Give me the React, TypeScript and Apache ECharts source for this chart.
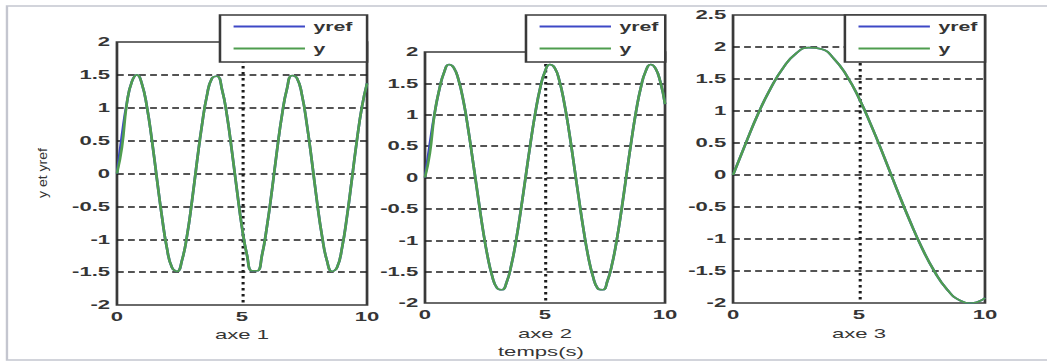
import React, { useEffect, useRef } from "react";
import * as echarts from "echarts";

// The figure is laid out on a narrow canvas and widened horizontally by CSS.
const STRETCH = 1.7;
const BASE_W = 616;
const BASE_H = 362;

const FONT = "'Liberation Sans', Arial, sans-serif";
const TEXT_COLOR = "#353535";
const YREF_COLOR = "#3e48c6";
const Y_COLOR = "#4f9d4f";
const FRAME_COLOR = "#3a3a3a";

// Time samples (s)
const tFine = [
  0, 0.2, 0.4, 0.6, 0.8, 1, 1.2, 1.4, 1.6, 1.8, 2, 2.2, 2.4, 2.6, 2.8, 3, 3.2, 3.4, 3.6, 3.8, 4,
  4.2, 4.4, 4.6, 4.8, 5, 5.2, 5.4, 5.6, 5.8, 6, 6.2, 6.4, 6.6, 6.8, 7, 7.2, 7.4, 7.6, 7.8, 8,
  8.2, 8.4, 8.6, 8.8, 9, 9.2, 9.4, 9.6, 9.8, 10,
];
const tCoarse = [0, 0.5, 1, 1.5, 2, 2.5, 3, 3.5, 4, 4.5, 5, 5.5, 6, 6.5, 7, 7.5, 8, 8.5, 9, 9.5, 10];

// axe 1
const yref1 = [
  0, 0.58, 1.08, 1.4, 1.5, 1.36, 1.01, 0.5, -0.09, -0.66, -1.14, -1.43, -1.49, -1.32, -0.95, -0.42,
  0.18, 0.74, 1.19, 1.45, 1.48, 1.28, 0.88, 0.33, -0.26, -0.82, -1.24, -1.48, -1.48, -1.24, -0.8,
  -0.25, 0.35, 0.89, 1.29, 1.49, 1.45, 1.19, 0.73, 0.17, -0.43, -0.95, -1.33, -1.49, -1.43, -1.13,
  -0.65, -0.07, 0.52, 1.02, 1.37,
];
const y1Start = [0, 0.4];

// axe 2
const yref2 = [
  0, 0.53, 1.02, 1.41, 1.68, 1.8, 1.75, 1.55, 1.22, 0.77, 0.25, -0.28, -0.8, -1.24, -1.57, -1.76,
  -1.79, -1.67, -1.39, -0.99, -0.5, 0.03, 0.56, 1.04, 1.43, 1.69, 1.8, 1.75, 1.54, 1.19, 0.74, 0.22,
  -0.31, -0.82, -1.26, -1.58, -1.77, -1.79, -1.65, -1.37, -0.97, -0.48, 0.06, 0.59, 1.07, 1.45,
  1.7, 1.8, 1.74, 1.53, 1.17,
];
const y2Start = [0, 0.38];

// axe 3
const yref3 = [
  0, 0.49, 0.96, 1.36, 1.68, 1.9, 1.99, 1.97, 1.82, 1.56, 1.2, 0.76, 0.28, -0.22, -0.7, -1.14,
  -1.51, -1.79, -1.96, -2.0, -1.92,
];

const y1 = [...y1Start, ...yref1.slice(y1Start.length)];
const y2 = [...y2Start, ...yref2.slice(y2Start.length)];
const y3 = yref3.slice();

const axisNames = ["axe 1", "axe 2", "axe 3"];
const yMax = [2, 2, 2.5];
const legendNames = ["yref", "y"];

const pairs = (t: number[], v: number[]) => t.map((x, i) => [x, v[i]]);

const panels = [
  { t: tFine, yref: yref1, y: y1 },
  { t: tFine, yref: yref2, y: y2 },
  { t: tCoarse, yref: yref3, y: y3 },
];

const gridBoxes = [
  { left: 68.8, top: 42, width: 147.1, height: 263 },
  { left: 250, top: 52, width: 141.2, height: 251 },
  { left: 431.2, top: 15, width: 148.2, height: 288 },
];
const nameGaps = [23, 24, 24];
const legendBoxes = [
  { left: 129.4, padding: [5, 8.6, 7, 8] },
  { left: 309.4, padding: [5, 4, 7, 8] },
  { left: 497, padding: [5, 4.5, 7, 8] },
];

export default function App() {
  const ref = useRef<HTMLDivElement>(null);

  useEffect(() => {
    if (!ref.current) return;
    const chart = echarts.init(ref.current, null, { renderer: "svg" });

    const labelStyle = {
      fontFamily: FONT,
      fontSize: 13,
      fontWeight: "bold" as const,
      color: TEXT_COLOR,
    };

    const option: any = {
      animation: false,
      backgroundColor: "#ffffff",
      grid: gridBoxes.map((g) => ({
        ...g,
        show: true,
        borderColor: FRAME_COLOR,
        borderWidth: 1.6,
        backgroundColor: "transparent",
        containLabel: false,
      })),
      xAxis: gridBoxes.map((_, i) => ({
        type: "value",
        gridIndex: i,
        min: 0,
        max: 10,
        interval: 5,
        name: axisNames[i],
        nameLocation: "middle",
        nameGap: nameGaps[i],
        nameTextStyle: { fontFamily: FONT, fontSize: 13, color: TEXT_COLOR },
        axisLine: { show: false },
        axisTick: { show: false },
        axisLabel: { ...labelStyle, margin: 5 },
        splitLine: {
          show: true,
          showMinLine: false,
          showMaxLine: false,
          lineStyle: { color: "#1c1c1c", width: 1.8, type: [2.5, 3.5] },
        },
      })),
      yAxis: gridBoxes.map((_, i) => ({
        type: "value",
        gridIndex: i,
        min: -2,
        max: yMax[i],
        interval: 0.5,
        axisLine: { show: false },
        axisTick: { show: false },
        axisLabel: { ...labelStyle, margin: 4 },
        splitLine: {
          show: true,
          showMinLine: false,
          showMaxLine: false,
          lineStyle: { color: "#1c1c1c", width: 1.5, type: [4, 2.5] },
        },
      })),
      legend: legendBoxes.map((l) => ({
        data: legendNames,
        orient: "vertical",
        left: l.left,
        top: 15,
        padding: l.padding,
        itemGap: 9,
        itemWidth: 42,
        itemHeight: 2,
        icon: "rect",
        selectedMode: false,
        backgroundColor: "#ffffff",
        borderColor: "#3a3a3a",
        borderWidth: 1.5,
        borderRadius: 0,
        textStyle: { fontFamily: FONT, fontSize: 12.5, fontWeight: "bold", color: TEXT_COLOR },
        z: 10,
      })),
      series: panels.flatMap((p, i) => [
        {
          name: "yref",
          type: "line",
          xAxisIndex: i,
          yAxisIndex: i,
          data: pairs(p.t, p.yref),
          showSymbol: false,
          smooth: true,
          color: YREF_COLOR,
          lineStyle: { color: YREF_COLOR, width: 1.6 },
          z: 2,
        },
        {
          name: "y",
          type: "line",
          xAxisIndex: i,
          yAxisIndex: i,
          data: pairs(p.t, p.y),
          showSymbol: false,
          smooth: true,
          color: Y_COLOR,
          lineStyle: { color: Y_COLOR, width: 1.6 },
          z: 3,
        },
      ]),
      graphic: [
        {
          type: "rect",
          z: -10,
          silent: true,
          shape: { x: 4.1, y: 6, width: 700, height: 354 },
          style: { fill: "none", stroke: "#c4c6cf", lineWidth: 1.4 },
        },
        {
          type: "text",
          x: 25.3,
          y: 173,
          rotation: Math.PI / 2,
          scaleX: 1.4,
          scaleY: 0.7,
          style: {
            text: "y et yref",
            fontFamily: FONT,
            fontSize: 10,
            fill: TEXT_COLOR,
            align: "center",
            verticalAlign: "middle",
          },
        },
        {
          type: "text",
          x: 318.2,
          y: 352,
          style: {
            text: "temps(s)",
            fontFamily: FONT,
            fontSize: 13,
            fill: TEXT_COLOR,
            align: "center",
            verticalAlign: "middle",
          },
        },
      ],
    };

    chart.setOption(option);
    return () => chart.dispose();
  }, []);

  return (
    <div
      ref={ref}
      style={{
        position: "fixed",
        left: 0,
        top: 0,
        width: BASE_W,
        height: BASE_H,
        transform: `scaleX(${STRETCH})`,
        transformOrigin: "0 0",
        background: "#ffffff",
      }}
    />
  );
}
